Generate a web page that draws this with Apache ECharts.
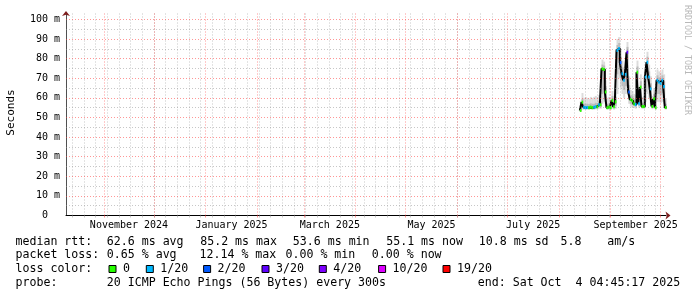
<!DOCTYPE html>
<html><head><meta charset="utf-8">
<script src="https://cdn.jsdelivr.net/npm/echarts@6/dist/echarts.min.js"></script>
<style>html,body{margin:0;padding:0;background:#fff}#c{width:697px;height:297px}</style>
</head><body><div id="c"></div>
<script>
// ---------- data ----------
const days = ['2025-08-14','2025-08-15','2025-08-16','2025-08-17','2025-08-18','2025-08-19','2025-08-20','2025-08-21','2025-08-22','2025-08-23','2025-08-24','2025-08-25','2025-08-26','2025-08-27','2025-08-28','2025-08-29','2025-08-30','2025-08-31',
'2025-09-01','2025-09-02','2025-09-03','2025-09-04','2025-09-05','2025-09-06','2025-09-07','2025-09-08','2025-09-09','2025-09-10','2025-09-11','2025-09-12','2025-09-13','2025-09-14','2025-09-15','2025-09-16','2025-09-17','2025-09-18','2025-09-19','2025-09-20','2025-09-21','2025-09-22','2025-09-23','2025-09-24','2025-09-25','2025-09-26','2025-09-27','2025-09-28','2025-09-29','2025-09-30',
'2025-10-01','2025-10-02','2025-10-03','2025-10-04'];
// median rtt in ms
const median = [53.6,57.8,55.2,55.0,55.1,55.0,55.3,55.0,55.2,55.5,55.4,56.5,56.5,74.8,74.5,63.0,55.0,55.3,55.0,58.7,55.5,58.0,84.2,85.2,78.0,72.3,69.0,72.0,83.3,63.0,59.2,58.5,57.0,56.6,73.1,57.0,65.5,55.6,55.6,70.6,78.2,70.6,64.6,55.6,59.5,55.0,69.0,68.0,67.3,69.0,65.8,55.1];
// loss bucket (pings lost out of 20)
const lossBucket = [0,0,1,1,1,0,0,0,1,1,0,1,0,0,0,0,0,0,0,0,0,0,1,1,2,1,1,1,3,2,0,0,0,1,0,1,0,0,0,1,1,1,1,0,0,0,1,1,1,1,1,0];
// smoke: outer band and inner band (ms)
const smokeLo  = [53.0,54.0,54.0,54.0,54.0,54.0,54.2,54.0,54.0,54.2,54.2,54.5,54.5,57.0,58.0,55.0,54.0,54.0,54.0,54.5,54.0,54.5,62.0,70.0,65.0,62.0,60.0,62.0,66.0,57.0,55.5,55.0,54.8,54.5,57.0,55.0,56.0,54.3,54.3,58.0,62.0,60.0,57.0,54.3,55.0,54.0,58.0,58.0,57.5,58.0,57.0,54.0];
const smokeHi  = [58.5,62.5,60.0,60.5,60.0,59.5,60.5,60.0,60.5,61.0,60.5,61.5,61.0,79.5,78.5,69.0,60.0,60.5,60.0,63.5,60.5,63.0,90.0,91.0,85.0,79.0,75.5,78.5,88.5,71.0,64.0,63.5,62.0,61.5,79.0,63.0,72.0,60.5,61.0,77.0,83.5,77.0,71.0,61.0,65.0,60.0,74.5,73.5,73.0,74.5,72.0,60.0];
const smokeLo2 = [53.3,55.5,54.6,54.5,54.6,54.5,54.7,54.5,54.6,54.8,54.8,55.3,55.3,62.0,64.0,57.0,54.5,54.7,54.5,56.0,54.8,56.0,72.0,78.0,71.0,66.0,64.0,66.0,74.0,59.5,57.0,56.5,55.8,55.5,62.0,56.0,60.0,54.9,54.9,63.0,69.0,64.0,60.0,54.9,56.5,54.5,62.0,62.0,61.5,62.5,60.5,54.5];
const smokeHi2 = [55.5,59.5,57.0,57.0,57.0,56.8,57.2,57.0,57.0,57.5,57.3,58.5,58.3,77.0,76.5,66.0,57.0,57.2,57.0,61.0,57.5,60.5,87.0,88.0,81.0,75.5,72.0,75.0,86.0,66.5,61.5,61.0,59.5,59.0,76.0,59.5,68.5,57.5,57.5,73.5,81.0,73.5,67.5,57.8,62.0,57.0,71.5,70.5,70.0,71.5,68.5,57.0];

// axis / tick definitions
const monthStarts = ['2024-11-01','2024-12-01','2025-01-01','2025-02-01','2025-03-01','2025-04-01','2025-05-01','2025-06-01','2025-07-01','2025-08-01','2025-09-01','2025-10-01'];
const labelMonths = ['2024-11-01','2025-01-01','2025-03-01','2025-05-01','2025-07-01','2025-09-01'];
const labelTexts  = ['November 2024','January 2025','March 2025','May 2025','July 2025','September 2025'];
const yLabelValues = [0,10,20,30,40,50,60,70,80,90,100];
const yMajor = [10,20,30,40,50,60,70,80,90,100];
const yMinor = [5,15,25,35,45,55,65,75,85,95];
const lossLegend = [['0','#26ff00'],['1/20','#00b8ff'],['2/20','#0059ff'],['3/20','#5e00ff'],['4/20','#7e00ff'],['10/20','#dd00ff'],['19/20','#ff0000']];
const lossColorByBucket = {0:'#26ff00',1:'#00b8ff',2:'#0059ff',3:'#5e00ff',4:'#7e00ff',10:'#dd00ff',19:'#ff0000'};

// ---------- derived ----------
const DAY = 86400000;
const END = Date.UTC(2025,9,4,4,45,17);
const START = END - 360*DAY;
const ts = d => Date.parse(d + 'T00:00:00Z');
const tPts = days.map(d => ts(d) + DAY/2);
const tPrev = tPts.map(t => t - DAY);
const monthTs = monthStarts.map(ts);
const labelTs = labelMonths.map(d => {
  const s = new Date(ts(d)); const n = Date.UTC(s.getUTCFullYear(), s.getUTCMonth()+1, 1);
  return (ts(d) + n) / 2;
});
const weeks = [];
for (let w = Date.UTC(2024,9,13); w < END; w += 7*DAY) weeks.push(w);

const RED = 'rgba(255,64,64,0.55)', GRAY = 'rgba(143,143,143,0.5)';
const dash = [1,2];
const gridLines = [
  ...weeks.map(w => ({xAxis: w, lineStyle:{color:GRAY, type:dash, width:1}})),
  ...yMinor.map(v => ({yAxis: v, lineStyle:{color:GRAY, type:dash, width:1}})),
  ...monthTs.map(m => ({xAxis: m, lineStyle:{color:RED, type:dash, width:1}})),
  ...yMajor.map(v => ({yAxis: v, lineStyle:{color:RED, type:dash, width:1}}))
];

const medianLine = [[tPrev[0], median[0]], ...tPts.map((t,i) => [t, median[i]])];
const smokeOuter = tPts.map((t,i) => [tPrev[i], t, smokeLo[i], smokeHi[i]]);
const smokeInner = tPts.map((t,i) => [tPrev[i], t, smokeLo2[i], smokeHi2[i]]);
const stubs = tPts.map((t,i) => [tPrev[i], t, median[i], lossBucket[i]]);

function bandRender(color){
  return function(params, api){
    const a = api.coord([api.value(0), api.value(3)]);
    const b = api.coord([api.value(1), api.value(2)]);
    return {type:'rect', shape:{x:a[0], y:a[1], width:b[0]-a[0]+0.3, height:b[1]-a[1]}, style:{fill:color}};
  };
}

const FF = '"DejaVu Sans Mono", monospace';
const LF = '11.6px ' + FF;
const graphics = [];
function T(x, y, text, font, extra){
  graphics.push(Object.assign({type:'text', x:x, y:y, silent:true,
    style:{text:text, font:font || LF, fill:'#000', align:'left', verticalAlign:'middle', textAlign:'left', textVerticalAlign:'middle'}}, extra||{}));
}
const r1 = 241.7, r2 = 255, r3 = 269, r4 = 283.3;
T(15.5, r1, 'median rtt:'); T(106.8, r1, '62.6 ms avg'); T(200.2, r1, '85.2 ms max'); T(292.8, r1, '53.6 ms min');
T(386.2, r1, '55.1 ms now'); T(478.8, r1, '10.8 ms sd'); T(560.5, r1, '5.8'); T(607.2, r1, 'am/s');
T(15.5, r2, 'packet loss:'); T(106.8, r2, '0.65 % avg'); T(199.5, r2, '12.14 % max'); T(285.5, r2, '0.00 % min'); T(371.8, r2, '0.00 % now');
T(15.5, r3, 'loss color:');
const boxX = [109, 146.3, 203.6, 262, 319.3, 378.6, 443];
lossLegend.forEach((l, i) => {
  graphics.push({type:'rect', silent:true, shape:{x:boxX[i], y:265.5, width:7, height:7}, style:{fill:l[1], stroke:'#000', lineWidth:1}});
  T(boxX[i] + 14, r3, l[0]);
});
T(15.5, r4, 'probe:'); T(106.8, r4, '20 ICMP Echo Pings (56 Bytes) every 300s'); T(477.8, r4, 'end: Sat Oct  4 04:45:17 2025');
graphics.push({type:'text', x:11, y:112.5, rotation:Math.PI/2, silent:true,
  style:{text:'Seconds', font:'11px ' + FF, fill:'#000', align:'center', verticalAlign:'middle', textAlign:'center', textVerticalAlign:'middle'}});
graphics.push({type:'text', x:687.5, y:60, rotation:-Math.PI/2, silent:true,
  style:{text:'RRDTOOL / TOBI OETIKER', font:'8.3px ' + FF, fill:'#b8b8b8', align:'center', verticalAlign:'middle', textAlign:'center', textVerticalAlign:'middle'}});

const chart = echarts.init(document.getElementById('c'));
chart.setOption({
  animation:false,
  backgroundColor:'#ffffff',
  grid:{left:66, right:31, top:13, bottom:81.5, containLabel:false},
  xAxis:[{
    type:'value', min:START, max:END, scale:true,
    axisLine:{show:true, lineStyle:{color:'#000', width:1}},
    axisTick:{show:true, customValues:monthTs, length:2, lineStyle:{color:RED}},
    axisLabel:{customValues:labelTs, formatter:(v)=>{const i = labelTs.indexOf(v); return i>=0 ? labelTexts[i] : '';},
      fontFamily:FF, fontSize:10, color:'#000', margin:5},
    splitLine:{show:false}
  },{
    type:'value', min:START, max:END, scale:true, position:'bottom',
    axisLine:{show:true, lineStyle:{color:'#7f1f1f', width:0}, symbol:['none','arrow'], symbolSize:[6,5], symbolOffset:[0,4.5]},
    axisTick:{show:true, customValues:weeks, length:2, lineStyle:{color:GRAY}},
    axisLabel:{show:false}, splitLine:{show:false}
  }],
  yAxis:[{
    type:'value', min:0, max:103.3,
    axisLine:{show:true, lineStyle:{color:'#505050', width:1}},
    axisTick:{show:false},
    axisLabel:{customValues:yLabelValues, formatter:(v)=> v===0 ? '0  ' : (v + ' m'),
      fontFamily:FF, fontSize:10, color:'#000', margin:6},
    splitLine:{show:false}
  },{
    type:'value', min:0, max:103.3, position:'left',
    axisLine:{show:true, lineStyle:{color:'#7f1f1f', width:0}, symbol:['none','arrow'], symbolSize:[6,5], symbolOffset:[0,2]},
    axisTick:{show:false}, axisLabel:{show:false}, splitLine:{show:false}
  }],
  series:[
    {type:'line', z:1, data:[[START,0]], symbol:'none', lineStyle:{opacity:0}, silent:true,
      markLine:{silent:true, symbol:['none','none'], label:{show:false}, animation:false, data:gridLines}},
    {type:'custom', z:2, data:smokeOuter, encode:{x:[0,1], y:[2,3]}, renderItem:bandRender('#dcdcdc'), silent:true},
    {type:'custom', z:3, data:smokeInner, encode:{x:[0,1], y:[2,3]}, renderItem:bandRender('#bcbcbc'), silent:true},
    {type:'line', z:4, data:medianLine, step:'start', symbol:'none', lineStyle:{color:'#000', width:2}, silent:true},
    {type:'custom', z:5, data:stubs, encode:{x:[0,1], y:2}, silent:true,
      renderItem:function(params, api){
        const a = api.coord([api.value(0), api.value(2)]);
        const b = api.coord([api.value(1), api.value(2)]);
        return {type:'rect', shape:{x:a[0], y:a[1]-1.5, width:b[0]-a[0], height:3}, style:{fill:lossColorByBucket[api.value(3)]}};
      }}
  ],
  graphic:graphics
});
</script></body></html>
